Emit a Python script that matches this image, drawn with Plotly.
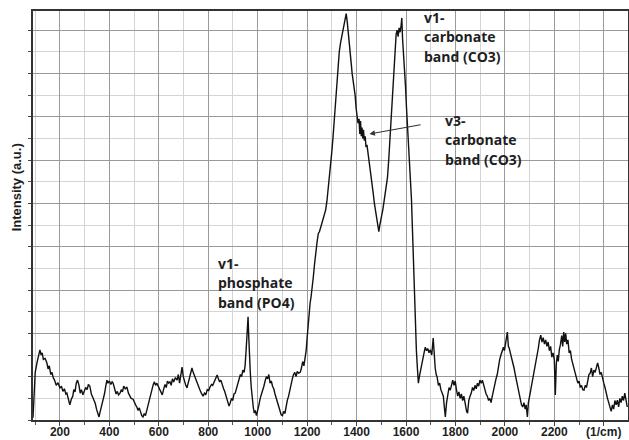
import plotly.graph_objects as go

wavenumber = [
    91, 95, 100, 107, 112, 119, 124, 128, 133, 140, 147, 152, 157, 163, 168, 172, 178, 185, 192, 200,
    206, 212, 218, 224, 228, 234, 240, 246, 252, 256, 261, 266, 271, 277, 282, 287, 293, 298, 304, 310,
    315, 321, 327, 333, 338, 343, 348, 353, 358, 363, 368, 374, 380, 386, 390, 394, 400, 406, 411, 415,
    421, 427, 432, 437, 443, 448, 453, 458, 464, 471, 477, 482, 488, 496, 501, 506, 511, 516, 521, 526,
    531, 536, 541, 546, 551, 556, 561, 566, 572, 577, 582, 587, 592, 597, 603, 608, 614, 619, 625, 630,
    635, 640, 645, 650, 655, 660, 667, 674, 679, 684, 689, 694, 699, 704, 709, 714, 719, 724, 729, 734,
    739, 744, 750, 755, 760, 766, 772, 779, 785, 790, 796, 802, 807, 813, 818, 824, 830, 836, 841, 846,
    851, 856, 862, 867, 872, 878, 884, 889, 894, 899, 904, 909, 914, 920, 925, 930, 935, 940, 945, 949,
    953, 957, 961, 964, 967, 970, 974, 978, 982, 986, 990, 995, 1000, 1005, 1010, 1015, 1020, 1025, 1030, 1035,
    1040, 1045, 1050, 1055, 1060, 1065, 1070, 1075, 1080, 1085, 1090, 1095, 1100, 1105, 1110, 1115, 1120, 1125, 1130, 1135,
    1140, 1145, 1150, 1155, 1160, 1165, 1172, 1177, 1182, 1187, 1192, 1196, 1200, 1204, 1208, 1212, 1216, 1220, 1225, 1230,
    1235, 1240, 1245, 1250, 1255, 1260, 1265, 1270, 1275, 1280, 1285, 1290, 1295, 1300, 1305, 1310, 1315, 1320, 1325, 1330,
    1335, 1340, 1346, 1350, 1355, 1358, 1362, 1366, 1370, 1374, 1378, 1382, 1386, 1390, 1394, 1398, 1402, 1406, 1410, 1413,
    1416, 1419, 1422, 1425, 1428, 1431, 1435, 1438, 1442, 1447, 1452, 1457, 1462, 1467, 1472, 1477, 1482, 1486, 1490, 1494,
    1498, 1502, 1506, 1510, 1515, 1520, 1525, 1530, 1535, 1540, 1545, 1550, 1555, 1560, 1564, 1568, 1572, 1576, 1580, 1583,
    1586, 1590, 1594, 1598, 1602, 1606, 1610, 1614, 1618, 1622, 1626, 1630, 1634, 1638, 1642, 1646, 1650, 1654, 1658, 1663,
    1668, 1673, 1678, 1683, 1688, 1693, 1698, 1704, 1710, 1714, 1718, 1722, 1726, 1731, 1736, 1741, 1746, 1751, 1755, 1759,
    1764, 1769, 1774, 1779, 1784, 1789, 1794, 1799, 1804, 1809, 1814, 1819, 1824, 1829, 1834, 1840, 1845, 1849, 1854, 1859,
    1864, 1869, 1874, 1879, 1884, 1889, 1894, 1899, 1904, 1909, 1914, 1919, 1924, 1929, 1934, 1939, 1944, 1949, 1954, 1959,
    1964, 1969, 1974, 1979, 1984, 1989, 1994, 1998, 2002, 2006, 2010, 2014, 2018, 2022, 2027, 2032, 2037, 2042, 2047, 2052,
    2057, 2062, 2067, 2072, 2077, 2082, 2086, 2091, 2095, 2100, 2105, 2110, 2115, 2120, 2125, 2130, 2135, 2140, 2145, 2150,
    2155, 2160, 2165, 2170, 2175, 2180, 2185, 2190, 2195, 2200, 2204, 2208, 2212, 2216, 2220, 2225, 2230, 2234, 2238, 2242,
    2246, 2250, 2255, 2260, 2265, 2270, 2275, 2280, 2285, 2290, 2295, 2300, 2305, 2310, 2315, 2320, 2325, 2330, 2335, 2340,
    2345, 2350, 2355, 2360, 2365, 2370, 2375, 2380, 2385, 2390, 2395, 2400, 2405, 2410, 2415, 2420, 2425, 2430, 2435, 2440,
    2445, 2450, 2455, 2460, 2465, 2470, 2475, 2480, 2485, 2490, 2495,
]

intensity = [
    0.05, 0.6, 1.1, 1.32, 1.45, 1.62, 1.5, 1.55, 1.4, 1.42, 1.32, 1.18, 1.25, 1.05, 1.1, 0.99, 0.92, 0.8, 0.86, 0.74,
    0.78, 0.66, 0.72, 0.6, 0.62, 0.45, 0.35, 0.48, 0.55, 0.7, 0.65, 0.85, 0.92, 0.8, 0.62, 0.7, 0.58, 0.66, 0.75, 0.7,
    0.82, 0.78, 0.6, 0.52, 0.46, 0.38, 0.25, 0.18, 0.07, 0.2, 0.32, 0.42, 0.6, 0.8, 0.92, 0.85, 0.9, 0.82, 0.88, 0.85,
    0.72, 0.6, 0.66, 0.58, 0.62, 0.7, 0.65, 0.78, 0.72, 0.76, 0.62, 0.55, 0.5, 0.48, 0.4, 0.35, 0.3, 0.22, 0.28, 0.15,
    0.1, 0.07, 0.15, 0.1, 0.22, 0.3, 0.45, 0.55, 0.7, 0.81, 0.88, 0.8, 0.85, 0.78, 0.7, 0.62, 0.58, 0.7, 0.82, 0.75,
    0.9, 0.85, 0.88, 0.8, 0.95, 0.88, 0.98, 0.92, 1.05, 0.85, 1.05, 1.22, 1.0, 0.88, 0.8, 0.74, 0.85, 0.95, 1.1, 1.2,
    1.1, 1.02, 0.92, 0.85, 0.75, 0.7, 0.62, 0.55, 0.62, 0.58, 0.7, 0.68, 0.76, 0.82, 0.8, 0.88, 1.0, 1.04, 0.95, 0.88,
    0.92, 0.8, 0.72, 0.65, 0.55, 0.45, 0.32, 0.4, 0.5, 0.45, 0.6, 0.62, 0.72, 0.85, 0.95, 1.05, 1.0, 1.15, 1.1, 1.25,
    1.6, 2.05, 2.38, 1.9, 1.4, 1.1, 0.75, 0.45, 0.3, 0.16, 0.22, 0.1, 0.2, 0.35, 0.5, 0.58, 0.7, 0.78, 0.9, 1.0,
    0.95, 1.05, 0.85, 0.9, 0.78, 0.72, 0.6, 0.5, 0.42, 0.3, 0.22, 0.12, 0.1, 0.2, 0.15, 0.32, 0.46, 0.55, 0.7, 0.8,
    0.95, 1.05, 1.1, 1.0, 1.12, 1.08, 1.1, 1.2, 1.35, 1.25, 1.42, 1.6, 1.9, 2.2, 2.5, 2.7, 2.85, 3.0, 3.3, 3.6,
    3.9, 4.1, 4.3, 4.35, 4.45, 4.55, 4.6, 4.7, 4.85, 5.05, 5.3, 5.55, 5.85, 6.2, 6.55, 6.95, 7.3, 7.7, 8.05, 8.5,
    8.7, 8.85, 9.05, 9.2, 9.35, 9.38, 9.2, 9.0, 8.75, 8.5, 8.25, 8.0, 7.85, 7.65, 7.5, 7.2, 7.0, 6.85, 6.95, 6.6,
    6.9, 6.55, 6.75, 6.5, 6.7, 6.45, 6.55, 6.3, 6.35, 6.15, 5.9, 5.65, 5.45, 5.25, 5.0, 4.8, 4.55, 4.45, 4.35, 4.5,
    4.6, 4.75, 4.85, 5.0, 5.2, 5.35, 5.6, 6.0, 6.5, 7.1, 7.7, 8.2, 8.6, 8.9, 9.0, 8.85, 9.05, 8.95, 9.1, 9.28,
    8.8, 8.5, 8.1, 7.7, 7.2, 6.8, 6.4, 6.0, 5.6, 5.1, 4.4, 3.6, 2.8, 2.2, 1.6, 1.2, 0.85, 1.0, 1.1, 1.25,
    1.4, 1.55, 1.68, 1.6, 1.65, 1.55, 1.62, 1.5, 1.89, 1.5, 1.2, 1.05, 0.99, 0.8, 0.85, 0.7, 0.62, 0.55, 0.3, 0.07,
    0.4, 0.6, 0.75, 0.69, 0.85, 0.92, 0.8, 0.9, 0.7, 0.55, 0.65, 0.5, 0.6, 0.45, 0.55, 0.35, 0.2, 0.16, 0.45, 0.55,
    0.62, 0.75, 0.68, 0.8, 0.72, 0.85, 0.78, 0.92, 0.85, 0.92, 0.8, 0.7, 0.6, 0.55, 0.45, 0.5, 0.4, 0.55, 0.7, 0.85,
    0.95, 1.05, 1.25, 1.4, 1.5, 1.6, 1.68, 1.6, 1.75, 1.85, 2.03, 1.7, 1.65, 1.55, 1.45, 1.3, 1.2, 1.05, 0.9, 0.8,
    0.6, 0.45, 0.35, 0.3, 0.4, 0.25, 0.35, 0.07, 0.4, 0.55, 0.7, 0.85, 0.99, 1.15, 1.3, 1.45, 1.65, 1.85, 1.96, 1.8,
    1.9, 1.75, 1.85, 1.7, 1.8, 1.6, 1.7, 1.45, 1.55, 1.38, 0.58, 1.3, 1.5, 1.35, 1.62, 1.75, 1.95, 1.7, 2.03, 1.8,
    2.0, 1.75, 1.85, 1.55, 1.6, 1.4, 1.3, 1.15, 1.05, 0.95, 0.85, 0.9, 0.75, 0.8, 0.7, 0.69, 0.8, 0.75, 0.95, 1.05,
    1.08, 1.2, 1.0, 1.15, 1.1, 1.25, 1.32, 1.2, 1.05, 1.1, 0.95, 0.85, 0.75, 0.6, 0.5, 0.4, 0.3, 0.2, 0.35, 0.25,
    0.45, 0.35, 0.46, 0.3, 0.5, 0.4, 0.55, 0.45, 0.62, 0.4, 0.3,
]

x_tickvals = [200, 400, 600, 800, 1000, 1200, 1400, 1600, 1800, 2000, 2200, 2400]
x_ticktext = ["200", "400", "600", "800", "1000", "1200", "1400", "1600", "1800", "2000", "2200", "(1/cm)"]

labels = [
    # (lines, x_left, y_center_of_first_line)
    (["v1-", "phosphate", "band (PO4)"], 830, 3.62),
    (["v1-", "carbonate", "band (CO3)"], 1665, 9.30),
    (["v3-", "carbonate", "band (CO3)"], 1750, 6.92),
]
arrow_head = (1452, 6.6)
arrow_tail = (1665, 6.82)

fig = go.Figure()
fig.add_trace(go.Scatter(
    x=wavenumber, y=intensity, mode="lines",
    line=dict(color="#111111", width=1.4), showlegend=False, hoverinfo="skip",
))

text_color = "#1e1e1e"
line_step = 0.45
for lines, xl, ytop in labels:
    for i, t in enumerate(lines):
        fig.add_annotation(
            x=xl, y=ytop - i * line_step, xref="x", yref="y",
            text=t, showarrow=False, xanchor="left", yanchor="middle",
            font=dict(family="Open Sans", size=14, color=text_color, weight=700),
        )

fig.add_annotation(
    x=arrow_head[0], y=arrow_head[1], ax=arrow_tail[0], ay=arrow_tail[1],
    xref="x", yref="y", axref="x", ayref="y", text="",
    showarrow=True, arrowhead=2, arrowsize=1, arrowwidth=1.1, arrowcolor="#333333",
)

fig.add_annotation(
    x=0, y=0.57, xref="paper", yref="paper", xanchor="right", yanchor="middle",
    xshift=-7, text="<b>Intensity (a.u.)</b>", textangle=-90, showarrow=False,
    font=dict(family="Liberation Sans", size=13, color=text_color),
)

fig.update_layout(
    template="none",
    width=629, height=440,
    margin=dict(l=33, r=1, t=11, b=20),
    paper_bgcolor="white", plot_bgcolor="white",
    font=dict(family="Liberation Sans", size=12, color=text_color),
    xaxis=dict(
        range=[91, 2498], tickmode="array", tickvals=x_tickvals, ticktext=x_ticktext,
        tickfont=dict(family="Liberation Sans", size=12, color=text_color, weight="bold"),
        ticklabelstandoff=-4,
        showgrid=True, gridcolor="#9a9a9a", gridwidth=1,
        minor=dict(dtick=100, tick0=0, showgrid=True, gridcolor="#d4d4d4", gridwidth=1,
                   ticks="outside", ticklen=3, tickcolor="#555555"),
        ticks="outside", ticklen=4, tickcolor="#444444",
        showline=True, linecolor="#333333", linewidth=1.5, mirror=True, zeroline=False,
    ),
    yaxis=dict(
        range=[0, 9.44], tickmode="linear", dtick=1, tick0=0, showticklabels=False,
        showgrid=True, gridcolor="#9a9a9a", gridwidth=1,
        minor=dict(dtick=0.5, tick0=0, showgrid=True, gridcolor="#d4d4d4", gridwidth=1,
                   ticks="outside", ticklen=3, tickcolor="#555555"),
        ticks="outside", ticklen=3, tickcolor="#444444",
        showline=True, linecolor="#333333", linewidth=1.5, mirror=True, zeroline=False,
    ),
)

fig.write_html("out.html")
